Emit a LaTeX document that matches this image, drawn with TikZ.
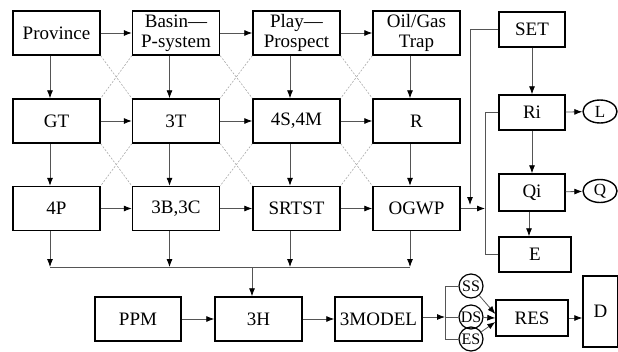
\documentclass[tikz,border=0pt]{standalone}
\usepackage{fontspec}
\setmainfont{Liberation Serif}
\usetikzlibrary{arrows.meta,shapes.geometric}
\definecolor{ln}{HTML}{555555}
\definecolor{dg}{HTML}{AAAAAA}
\begin{document}
\begin{tikzpicture}[x=1pt,y=-1pt,
  box/.style={draw,line width=1.4pt,minimum width=87pt,minimum height=44pt,inner sep=0pt,align=center,font=\fontsize{19}{20}\selectfont},
  rbox/.style={box,minimum width=66pt,minimum height=35pt},
  circ/.style={draw,circle,line width=1.2pt,minimum size=24pt,inner sep=0pt,font=\fontsize{16}{18}\selectfont},
  ell/.style={draw,ellipse,line width=1.4pt,minimum width=34pt,minimum height=23pt,inner sep=0pt,font=\fontsize{17}{18}\selectfont},
  arr/.style={draw=ln,line width=0.8pt,-{Latex[length=8pt,width=6pt,color=black]}},
  con/.style={draw=ln,line width=0.8pt},
  cross/.style={draw=dg,line width=0.6pt,dash pattern=on 2pt off 1.5pt}]
\useasboundingbox (0,0) rectangle (618,351);
% row 1
\node[box] (prov) at (56.5,33) {Province};
\node[box] (basin) at (176,33) {Basin—\\P-system};
\node[box] (play) at (296.5,33) {Play—\\Prospect};
\node[box] (trap) at (416.5,33) {Oil/Gas\\Trap};
% row 2
\node[box] (gt) at (56.5,121) {GT};
\node[box] (t3) at (176,121) {3T};
\node[box] (s4) at (296.5,121) {4S,4M};
\node[box] (r) at (416.5,121) {R};
% row 3
\node[box] (p4) at (56.5,208.5) {4P};
\node[box] (b3) at (176,208.5) {3B,3C};
\node[box] (srt) at (296.5,208.5) {SRTST};
\node[box] (ogwp) at (416.5,208.5) {OGWP};
% right column
\node[rbox] (set) at (532,29.5) {SET};
\node[rbox] (ri) at (532,112.5) {Ri};
\node[rbox,minimum height=37pt] (qi) at (532,192.5) {Qi};
\node[rbox,minimum width=72pt] (e) at (535,254.5) {E};
\node[ell] (l) at (600,111.5) {L};
\node[ell] (q) at (600,191) {Q};
% bottom
\node[box,minimum width=86pt] (ppm) at (138,319) {PPM};
\node[box] (h3) at (258.5,319) {3H};
\node[box] (model) at (378.5,319) {3MODEL};
\node[circ] (ss) at (471,286) {SS};
\node[circ] (ds) at (471,317) {DS};
\node[circ] (es) at (471,339) {ES};
\node[box,minimum width=72pt,minimum height=36pt] (res) at (532,318) {RES};
\node[box,minimum width=35pt,minimum height=71pt] (d) at (600.5,311.5) {D};
% crosses
\foreach \a/\b/\c/\dd in {prov/basin/gt/t3, basin/play/t3/s4, play/trap/s4/r, gt/t3/p4/b3, t3/s4/b3/srt, s4/r/srt/ogwp}{
  \draw[cross] (\a.south east) -- (\dd.north west);
  \draw[cross] (\b.south west) -- (\c.north east);
}
% horizontal arrows
\foreach \a/\b in {prov/basin, basin/play, play/trap, gt/t3, t3/s4, s4/r, p4/b3, b3/srt, srt/ogwp}{
  \draw[arr] (\a.east) -- (\b.west);
}
% vertical arrows
\foreach \a/\b in {prov/gt, basin/t3, play/s4, trap/r, gt/p4, t3/b3, s4/srt, r/ogwp}{
  \draw[arr] ([xshift=-6.5pt]\a.south) -- ([xshift=-6.5pt]\b.north);
}
% bus
\coordinate (bus1) at (50,267);
\coordinate (bus4) at (410,267);
\coordinate (busm) at (252,267);
\foreach \a in {p4,b3,srt,ogwp}{
  \draw[arr] ([xshift=-6.5pt]\a.south) -- ([xshift=-6.5pt]\a.south |- bus1);
}
\draw[con] (bus1) -- (bus4);
\draw[arr] (busm) -- (busm |- h3.north);
\draw[arr] (ppm) -- (h3);
\draw[arr] (h3) -- (model);
% right column
\coordinate (sv) at (470,205);
\draw[arr] (set.west) -| (sv);
\coordinate (vb) at (485,254.5);
\draw[con] (ri.west) -| (vb) -- (e.west);
\draw[arr] (ogwp.east) -- (ogwp.east -| vb);
\draw[arr] (set) -- (ri);
\draw[arr] (ri) -- (qi);
\draw[arr] ([xshift=-3pt]qi.south) -- ([xshift=-3pt]qi.south |- e.north);
\draw[arr] (ri) -- (l);
\draw[arr] (qi) -- (q);
% 3MODEL fan
\coordinate (m1) at (445,286);
\coordinate (m2) at (445,317);
\coordinate (m3) at (445,339);
\draw[arr] (model.east |- m2) -- (m2);
\draw[con] (ss.west) -- (m1) -- (m3) -- (es.west);
\draw[con] (m2) -- (ds.west);
\draw[arr] (ss) -- ([yshift=4pt]res.west);
\draw[arr] (ds) -- (res.west);
\draw[arr] (es) -- ([yshift=-4pt]res.west);
\draw[arr] (res.east) -- (res.east -| d.west);
\end{tikzpicture}
\end{document}
